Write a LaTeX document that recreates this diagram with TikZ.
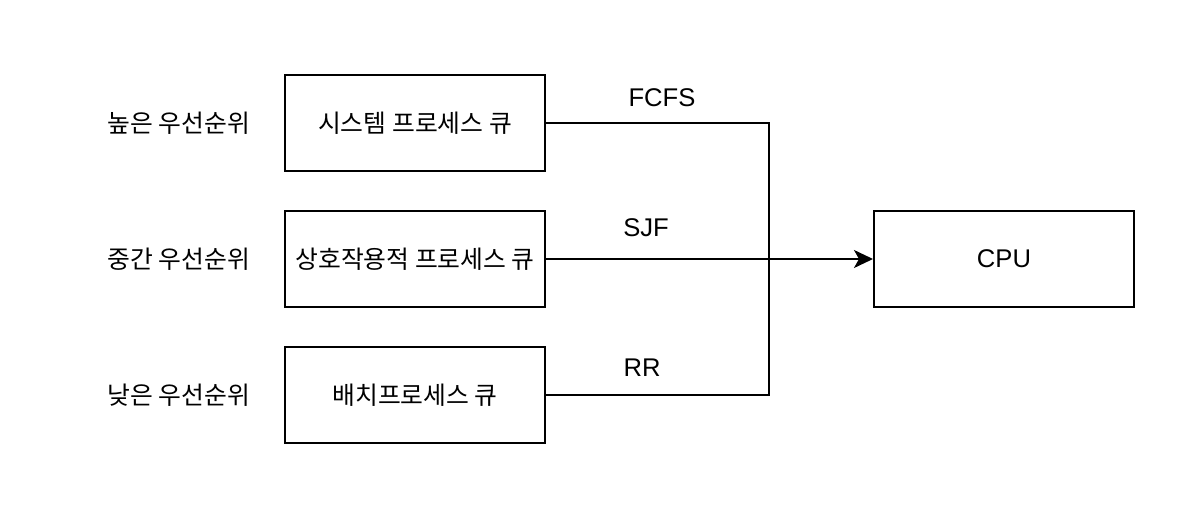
\documentclass[tikz,border=0pt]{standalone}
\usepackage{fontspec}
\setmainfont{Liberation Sans}
\newfontfamily\kofont{Noto Sans CJK KR}
\usetikzlibrary{arrows.meta}
\begin{document}
\begin{tikzpicture}[x=0.5pt,y=-0.5pt,line width=1pt,>={Stealth[length=9.5pt,width=9pt,inset=2.5pt]},
queuebox/.style={draw,minimum width=130pt,minimum height=48pt,font=\kofont\fontsize{12.4}{14}\selectfont},
prio/.style={font=\kofont\fontsize{12.4}{14}\selectfont},
algo/.style={font=\fontsize{12.8}{14}\selectfont}
]
\useasboundingbox (0,0) rectangle (1200,518);
% queues
\node[queuebox] (sys) at (415,123) {시스템 프로세스 큐};
\node[queuebox] (inter) at (415,259) {상호작용적 프로세스 큐};
\node[queuebox] (batch) at (415,395) {배치프로세스 큐};
\node[queuebox,font=\fontsize{12.8}{14}\selectfont] (cpu) at (1004,259) {CPU};
% priorities
\node[prio] (high) at (179,123) {높은 우선순위};
\node[prio] (mid) at (179,259) {중간 우선순위};
\node[prio] (low) at (179,395) {낮은 우선순위};
% connectors
\coordinate (join) at (769,259);
\draw (sys.east) -| (join);
\draw (batch.east) -| (join);
\draw[->] (inter.east) -- (cpu.west);
\node[algo] (fcfs) at (662,98) {FCFS};
\node[algo] (sjf) at (646,228) {SJF};
\node[algo] (rr) at (642,368) {RR};
\end{tikzpicture}
\end{document}
